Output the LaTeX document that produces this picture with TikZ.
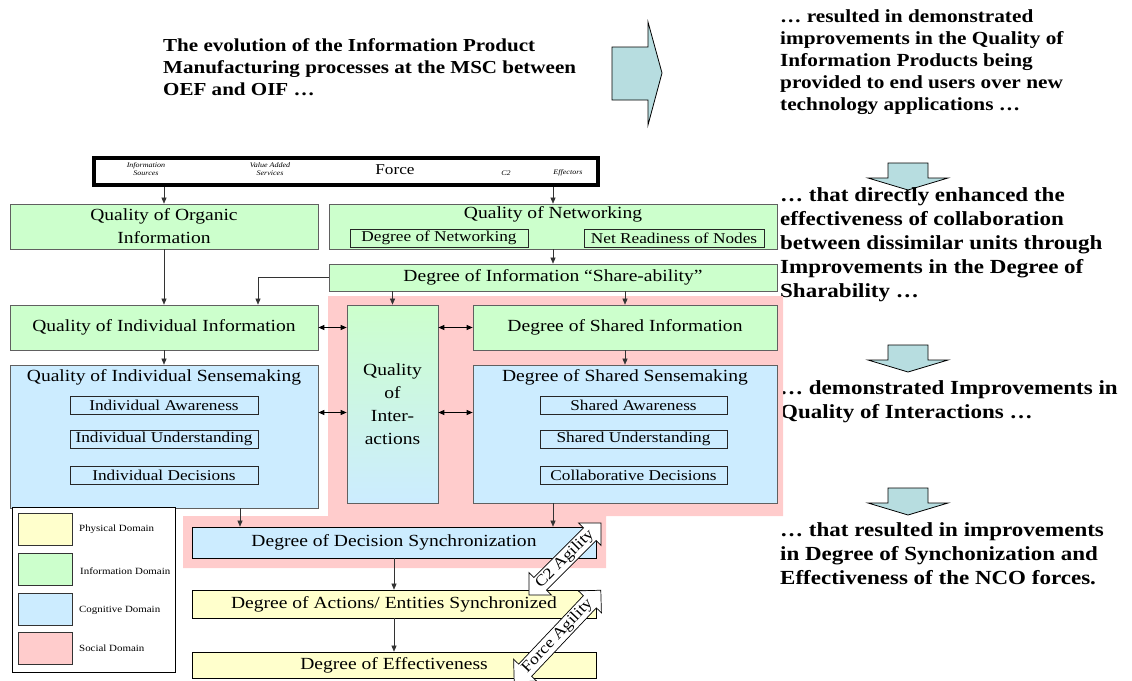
\documentclass[tikz,border=0pt]{standalone}
\usepackage{fontspec}
\setmainfont{Liberation Serif}[FakeStretch=1.15]
\usetikzlibrary{arrows.meta, shapes.arrows}

\definecolor{infogreen}{RGB}{204,255,204}
\definecolor{cogblue}{RGB}{204,236,255}
\definecolor{physyellow}{RGB}{255,255,204}
\definecolor{socialpink}{RGB}{255,204,204}
\definecolor{arrowteal}{RGB}{183,221,224}

\newcommand{\boxfont}{\fontsize{17}{23}\selectfont}
\newcommand{\subfont}{\fontsize{15}{16}\selectfont}

\begin{document}
\begin{tikzpicture}[x=1pt, y=-1pt,
	dombox/.style={draw=gray!75!black, line width=0.7pt, inner sep=0pt, align=center, font=\boxfont},
	subbox/.style={draw=black!85, line width=0.7pt, inner sep=0pt, minimum height=18pt, font=\subfont},
	boxtitle/.style={anchor=north, inner sep=0pt, font=\boxfont},
	tag/.style={align=center, inner sep=0pt, font=\itshape\fontsize{7}{8}\selectfont},
	swatch/.style={draw=black!80, line width=0.7pt, minimum width=54pt, minimum height=32pt, inner sep=0pt},
	legendtext/.style={anchor=west, inner sep=0pt, font=\fontsize{9.5}{11}\selectfont},
	link/.style={draw=black!80, line width=0.6pt, -{Triangle[length=6pt,width=5pt]}},
	both/.style={line width=1pt, {Triangle[length=6pt,width=5pt]}-{Triangle[length=6pt,width=5pt]}},
	note/.style={anchor=north west, align=left, inner sep=0pt},
	bigarrow/.style={draw=black, line width=0.8pt, fill=arrowteal},
	agility/.style={double arrow, draw=black, fill=white, line width=0.7pt, inner sep=1.5pt, double arrow head extend=7pt, font=\fontsize{15.5}{15.5}\selectfont}
]

	\useasboundingbox (0,0) rectangle (1132,680);

	\node[note, font=\bfseries\fontsize{18.3}{22}\selectfont] (evolution) at (163,38) {The evolution of the Information Product\\Manufacturing processes at the MSC between\\OEF and OIF …};
	\draw[bigarrow] (612,47) -- (648,47) -- (648,22) -- (662,73) -- (648,125) -- (648,100) -- (612,100) -- cycle;

	\node[note, font=\bfseries\fontsize{18.5}{22}\selectfont] (resulted) at (780,9) {… resulted in demonstrated\\improvements in the Quality of\\Information Products being\\provided to end users over new\\technology applications …};
	\draw[bigarrow] (888,163) -- (928,163) -- (928,178) -- (948,178) -- (908,190) -- (868,178) -- (888,178) -- cycle;
	\node[note, font=\bfseries\fontsize{20}{24}\selectfont] (enhanced) at (780,187) {… that directly enhanced the\\effectiveness of collaboration\\between dissimilar units through\\Improvements in the Degree of\\Sharability …};
	\draw[bigarrow] (888,345) -- (928,345) -- (928,360) -- (948,360) -- (908,372) -- (868,360) -- (888,360) -- cycle;
	\node[note, font=\bfseries\fontsize{20}{24}\selectfont] (interact) at (780,380) {… demonstrated Improvements in\\Quality of Interactions …};
	\draw[bigarrow] (888,488) -- (928,488) -- (928,503) -- (948,503) -- (908,515) -- (868,503) -- (888,503) -- cycle;
	\node[note, font=\bfseries\fontsize{20}{24}\selectfont] (synch) at (780,522) {… that resulted in improvements\\in Degree of Synchonization and\\Effectiveness of the NCO forces.};

	\fill[socialpink] (328,296) -- (783,296) -- (783,516) -- (606,516) -- (606,568) -- (183,568) -- (183,516) -- (328,516) -- cycle;

	\node[draw=black, line width=4pt, fill=white, minimum width=504pt, minimum height=27pt, inner sep=0pt] (force) at (346,171.5) {};
	\node[tag] (sources) at (146,169) {Information\\Sources};
	\node[tag] (services) at (270,169) {Value Added\\Services};
	\node[inner sep=0pt, font=\fontsize{15}{15}\selectfont] (forcelbl) at (395,170) {Force};
	\node[tag] (ctwo) at (506,173) {C2};
	\node[tag] (effectors) at (568,173) {Effectors};

	\node[dombox, fill=infogreen, minimum width=308pt, minimum height=45pt] (qooi) at (164,226.5) {Quality of Organic\\Information};
	\node[dombox, fill=infogreen, minimum width=448pt, minimum height=45pt] (qon) at (553,226.5) {};
	\node[boxtitle] (qontitle) at ([yshift=-3pt]qon.north) {Quality of Networking};
	\node[subbox, fill=infogreen, minimum width=178pt] (don) at (439,238) {Degree of Networking};
	\node[subbox, fill=infogreen, minimum width=180pt] (nrn) at (674,238) {Net Readiness of Nodes};
	\node[dombox, fill=infogreen, minimum width=448pt, minimum height=27pt] (share) at (553,277.5) {Degree of Information “Share-ability”};

	\node[dombox, fill=infogreen, minimum width=308pt, minimum height=45pt] (qoii) at (164,327.5) {Quality of Individual Information};
	\node[dombox, fill=cogblue, minimum width=308pt, minimum height=143pt] (qis) at (164,436.5) {};
	\node[boxtitle] (qistitle) at ([yshift=-5pt]qis.north) {Quality of Individual Sensemaking};
	\node[subbox, fill=cogblue, minimum width=188pt] (iaw) at (164,405) {Individual Awareness};
	\node[subbox, fill=cogblue, minimum width=188pt] (iun) at (164,439) {Individual Understanding};
	\node[subbox, fill=cogblue, minimum width=188pt] (idc) at (164,475) {Individual Decisions};

	\node[dombox, top color=infogreen, bottom color=cogblue, minimum width=91pt, minimum height=198pt] (qoint) at (392.5,404) {Quality\\of\\Inter-\\actions};

	\node[dombox, fill=infogreen, minimum width=304pt, minimum height=45pt] (dsi) at (625,327.5) {Degree of Shared Information};
	\node[dombox, fill=cogblue, minimum width=304pt, minimum height=138pt] (dss) at (625,434) {};
	\node[boxtitle] (dsstitle) at ([yshift=-5pt]dss.north) {Degree of Shared Sensemaking};
	\node[subbox, fill=cogblue, minimum width=187pt] (saw) at (633.5,405) {Shared Awareness};
	\node[subbox, fill=cogblue, minimum width=187pt] (sun) at (633.5,439) {Shared Understanding};
	\node[subbox, fill=cogblue, minimum width=187pt] (cdc) at (633.5,475) {Collaborative Decisions};

	\node[draw=black, line width=0.8pt, fill=white, minimum width=163pt, minimum height=165pt, inner sep=0pt] (legend) at (93.5,589.5) {};
	\node[swatch, fill=physyellow] (swphys) at (45,529) {};
	\node[swatch, fill=infogreen] (swinfo) at (45,569.5) {};
	\node[swatch, fill=cogblue] (swcog) at (45,609.5) {};
	\node[swatch, fill=socialpink] (swsoc) at (45,648) {};
	\node[legendtext] (lbphys) at (79,529) {Physical Domain};
	\node[legendtext] (lbinfo) at (80,571) {Information Domain};
	\node[legendtext] (lbcog) at (79,610) {Cognitive Domain};
	\node[legendtext] (lbsoc) at (79,648) {Social Domain};

	\node[dombox, draw=black, fill=cogblue, minimum width=404pt, minimum height=31pt] (dds) at (394,542.5) {Degree of Decision Synchronization};
	\node[dombox, draw=black, fill=physyellow, minimum width=404pt, minimum height=28pt] (act) at (394,604) {Degree of Actions/ Entities Synchronized};
	\node[dombox, draw=black, fill=physyellow, minimum width=404pt, minimum height=26pt] (eff) at (394,665) {Degree of Effectiveness};

	\coordinate (midrow) at ([yshift=24pt]qis.east);
	\coordinate (ddsL) at ([xshift=-154pt]dds.north);
	\coordinate (ddsR) at ([xshift=159pt]dds.north);

	\draw[link] (force.south -| qooi) -- (qooi.north);
	\draw[link] (force.south -| qon) -- (qon.north);
	\draw[link] (qon) -- (share);
	\draw[link] (qooi) -- (qoii);
	\draw[link] (share.west) -| ([xshift=94pt]qoii.north);
	\draw[link] (share.south -| qoint) -- (qoint.north);
	\draw[link] (share.south -| dsi) -- (dsi.north);
	\draw[link] (qoii) -- (qis);
	\draw[link] (dsi) -- (dss);
	\draw[both] (qoii.east) -- (qoii.east -| qoint.west);
	\draw[both] (qoint.east |- dsi) -- (dsi.west);
	\draw[both] (midrow) -- (midrow -| qoint.west);
	\draw[both] (qoint.east |- midrow) -- (dss.west |- midrow);
	\draw[link] (ddsL |- qis.south) -- (ddsL);
	\draw[link] (ddsR |- dss.south) -- (ddsR);
	\draw[link] (dds) -- (act);
	\draw[link] (act) -- (eff);

	\node[agility, minimum height=102pt, rotate=45] (ctwoagility) at (565,559) {C2 Agility};
	\node[agility, minimum height=126pt, rotate=46.6] (forceagility) at (557.5,636) {Force Agility};

\end{tikzpicture}
\end{document}
